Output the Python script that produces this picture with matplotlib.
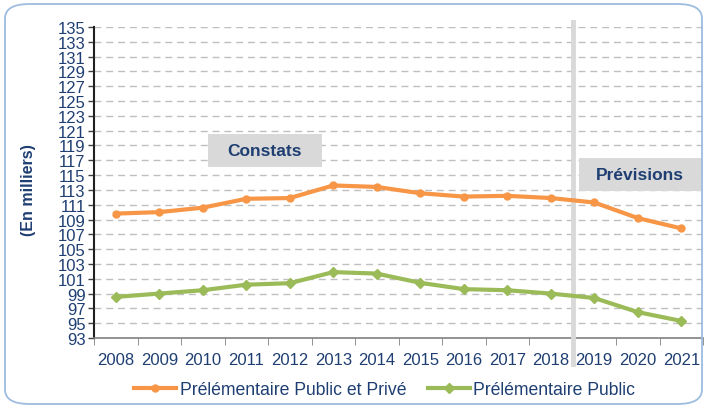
import numpy as np
import matplotlib.pyplot as plt
from matplotlib.patches import Rectangle, FancyBboxPatch
from matplotlib.lines import Line2D

plt.rcParams['font.family'] = ['Liberation Sans', 'DejaVu Sans']

years = ["2008", "2009", "2010", "2011", "2012", "2013", "2014",
         "2015", "2016", "2017", "2018", "2019", "2020", "2021"]
public_prive = [109.8, 110.0, 110.6, 111.8, 111.9, 113.6, 113.4,
                112.55, 112.1, 112.2, 111.9, 111.3, 109.2, 107.8]
public = [98.55, 99.0, 99.45, 100.2, 100.4, 101.9, 101.7,
          100.45, 99.6, 99.45, 99.0, 98.4, 96.5, 95.3]

blue = "#1f3f73"
orange = "#f79646"
green = "#9bbb59"

fig = plt.figure(figsize=(7.06, 4.10), dpi=100)
ax = fig.add_axes([94 / 706, 1 - 339 / 410, 609 / 706, 311 / 410])

# rounded frame around the chart
fig.patches.append(FancyBboxPatch((5 / 706, 5 / 410), 697 / 706, 400 / 410,
                                  boxstyle="round,pad=0,rounding_size=0.035",
                                  transform=fig.transFigure, fill=False,
                                  ec="#9dbce0", lw=1.3, zorder=0))

x = np.arange(len(years))
ax.plot(x, public_prive, color=orange, lw=3, marker="o", ms=5, zorder=4)
ax.plot(x, public, color=green, lw=3, marker="D", ms=5, zorder=4)

ax.set_xlim(-0.5, len(years) - 0.5)
ax.set_ylim(93, 135)
ax.set_yticks(np.arange(93, 136, 2))
ax.set_xticks(x)
ax.set_xticklabels(years)
ax.set_xticks(np.arange(-0.5, len(years), 1), minor=True)
ax.tick_params(axis="x", which="major", length=0, pad=10, labelsize=12, labelcolor=blue)
ax.tick_params(axis="x", which="minor", length=5, color="#808080")
ax.tick_params(axis="y", length=4, width=1, color="#404040", pad=2, labelsize=12, labelcolor=blue)

for v in np.arange(95, 136, 2):
    ax.axhline(v, color="#bfbfbf", lw=1, ls=(0, (5, 3.5)), zorder=1)

for s in ["top", "right"]:
    ax.spines[s].set_visible(False)
ax.spines["left"].set_color("#202020")
ax.spines["left"].set_linewidth(1.5)
ax.spines["bottom"].set_color("#808080")
ax.spines["bottom"].set_linewidth(1.2)

# separator between observed and forecast
ax.add_line(Line2D([10.5, 10.5], [-0.085, 1.017], transform=ax.get_xaxis_transform(),
                   color="#d9d9d9", lw=3.5, clip_on=False, zorder=3))

ax.add_patch(Rectangle((2.12, 116.08), 2.62, 4.46, fc="#d9d9d9", ec="none", zorder=2))
ax.text(3.43, 118.3, "Constats", ha="center", va="center", fontsize=12.5,
        fontweight="bold", color=blue, zorder=3)
ax.add_patch(Rectangle((10.65, 112.84), 2.83, 4.46, fc="#d9d9d9", ec="none", zorder=2, clip_on=False))
ax.text(12.06, 115.07, "Prévisions", ha="center", va="center", fontsize=12.5,
        fontweight="bold", color=blue, zorder=3)

fig.text(28 / 706, 1 - 190 / 410, "(En milliers)", rotation=90, ha="center", va="center",
         fontsize=11.5, fontweight="bold", color=blue)

handles = [Line2D([], [], color=orange, lw=3, marker="o", ms=5),
           Line2D([], [], color=green, lw=3, marker="D", ms=5)]
fig.legend(handles, ["Prélémentaire Public et Privé", "Prélémentaire Public"],
           loc="center", bbox_to_anchor=(0.545, 1 - 391 / 410), ncol=2, frameon=False,
           fontsize=12.7, handlelength=2.4, handletextpad=0.2, columnspacing=1.2,
           labelcolor=blue)

fig.savefig("out.png", dpi=100)
